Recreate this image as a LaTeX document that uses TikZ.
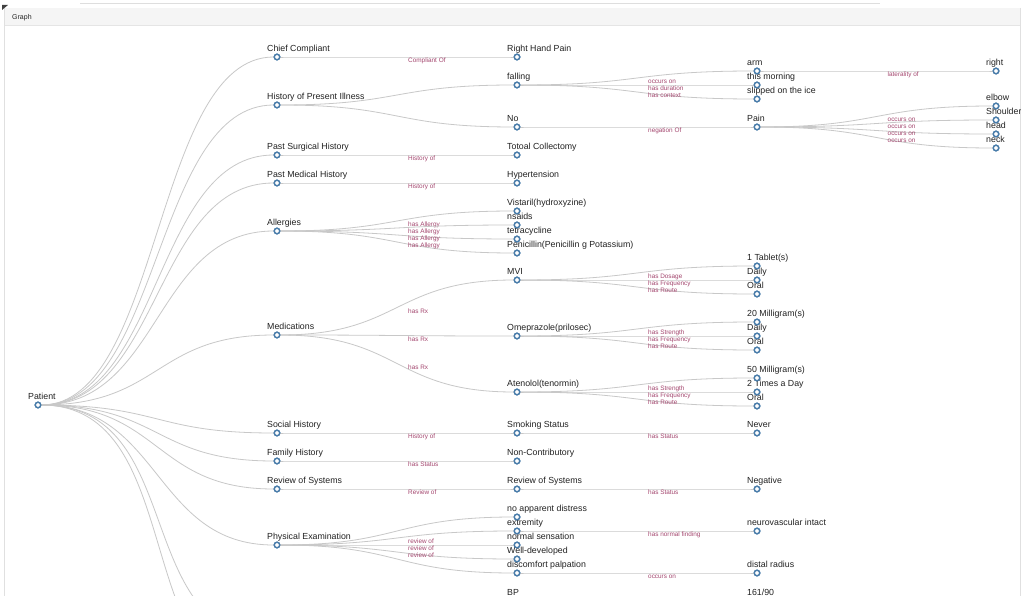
\documentclass[tikz,border=0pt]{standalone}
\usepackage{fontspec}
\setmainfont{Liberation Sans}
\usetikzlibrary{calc}
\definecolor{edgec}{HTML}{C8C8C8}
\definecolor{dotc}{HTML}{4A7DAA}
\definecolor{labc}{HTML}{A4476F}
\definecolor{txtc}{HTML}{222222}
\tikzset{
  dot/.style={circle,draw=dotc,line width=1.4pt,fill=white,minimum size=5.5pt,inner sep=0pt},
  txt/.style={text=txtc,font=\fontsize{8.8}{10}\selectfont,inner sep=0pt,anchor=base west},
  elab/.style={text=labc,font=\fontsize{6.4}{7}\selectfont,inner sep=0pt,anchor=west},
  link/.style={draw=edgec,line width=0.8pt,out=0,in=180,distance=120pt}
}
\newcommand\nd[4]{\node[dot] (#1) at (#2,#3) {}; \node[txt] (#1t) at (#2-10,#3-5.5) {#4};}
\newcommand\ed[2]{\draw[link] (#1) to (#2);}
\newcommand\edl[3]{\draw[link] (#1) to (#2); \node[elab] (#1#2l) at ($(#1)!.5!(#2)+(11,3.5)$) {#3};}
\begin{document}
\begin{tikzpicture}[x=1pt,y=-1pt]
\useasboundingbox (0,0) rectangle (1024,596);
\fill[white] (0,0) rectangle (1024,596);
% card
\draw[edgec!60,line width=0.6pt] (80,3) -- (880,3);
\fill[black!4] (4,8) rectangle (1020,25);
\draw[black!10,line width=0.5pt] (4,25) -- (1020,25);
\draw[black!12,line width=0.6pt] (4,8) -- (4,596) (1020,8) -- (1020,596);
\fill[black!75] (2,5) -- (8,5) -- (2,10) -- cycle;
\node[txt,font=\fontsize{7}{8}\selectfont] (hdr) at (12,19.5) {Graph};
\begin{scope}
\clip (4,26) rectangle (1020,596);
% level 0
\nd{P}{38}{405}{Patient}
% level 1
\nd{cc}{277}{57}{Chief Compliant}
\nd{hpi}{277}{105}{History of Present Illness}
\nd{psh}{277}{155}{Past Surgical History}
\nd{pmh}{277}{183}{Past Medical History}
\nd{al}{277}{231}{Allergies}
\nd{med}{277}{335}{Medications}
\nd{sh}{277}{433}{Social History}
\nd{fh}{277}{461}{Family History}
\nd{ros}{277}{489}{Review of Systems}
\nd{pe}{277}{545}{Physical Examination}
\coordinate (off1) at (277,640);
\coordinate (off2) at (277,690);
% level 2
\nd{rhp}{517}{57}{Right Hand Pain}
\nd{fal}{517}{85}{falling}
\nd{no}{517}{127}{No}
\nd{tc}{517}{155}{Totoal Collectomy}
\nd{ht}{517}{183}{Hypertension}
\nd{vis}{517}{211}{Vistaril(hydroxyzine)}
\nd{nsa}{517}{225}{nsaids}
\nd{tet}{517}{239}{tetracycline}
\nd{pen}{517}{253}{Penicillin(Penicillin g Potassium)}
\nd{mvi}{517}{280}{MVI}
\nd{ome}{517}{336}{Omeprazole(prilosec)}
\nd{ate}{517}{392}{Atenolol(tenormin)}
\nd{smk}{517}{433}{Smoking Status}
\nd{nc}{517}{461}{Non-Contributory}
\nd{ros2}{517}{489}{Review of Systems}
\nd{nad}{517}{517}{no apparent distress}
\nd{ext}{517}{531}{extremity}
\nd{ns}{517}{545}{normal sensation}
\nd{wd}{517}{559}{Well-developed}
\nd{dp}{517}{573}{discomfort palpation}
\nd{bp}{517}{601}{BP}
% level 3
\nd{arm}{757}{71}{arm}
\nd{tm}{757}{85}{this morning}
\nd{sli}{757}{99}{slipped on the ice}
\nd{pain}{757}{127}{Pain}
\nd{tab}{757}{266}{1 Tablet(s)}
\nd{d1}{757}{280}{Daily}
\nd{o1}{757}{294}{Oral}
\nd{m20}{757}{322}{20 Milligram(s)}
\nd{d2}{757}{336}{Daily}
\nd{o2}{757}{350}{Oral}
\nd{m50}{757}{378}{50 Milligram(s)}
\nd{t2}{757}{392}{2 Times a Day}
\nd{o3}{757}{406}{Oral}
\nd{nev}{757}{433}{Never}
\nd{neg}{757}{489}{Negative}
\nd{nvi}{757}{531}{neurovascular intact}
\nd{dr}{757}{573}{distal radius}
\nd{bpv}{757}{601}{161/90}
% level 4
\nd{rt}{996}{71}{right}
\nd{elb}{996}{106}{elbow}
\nd{sho}{996}{120}{Shoulder}
\nd{hd}{996}{134}{head}
\nd{nk}{996}{148}{neck}
\end{scope}
% edges, then dots redrawn on top
\begin{scope}
\clip (4,26) rectangle (1020,596);
\foreach \t in {cc,hpi,psh,pmh,al,med,sh,fh,ros,pe} {\ed{P}{\t}}
\draw[link,distance=150pt] (P) to (off1);
\draw[link,distance=150pt] (P) to (off2);
\edl{cc}{rhp}{Compliant Of}
\ed{hpi}{fal}
\ed{hpi}{no}
\edl{psh}{tc}{History of}
\edl{pmh}{ht}{History of}
\edl{al}{vis}{has Allergy}
\edl{al}{nsa}{has Allergy}
\edl{al}{tet}{has Allergy}
\edl{al}{pen}{has Allergy}
\edl{med}{mvi}{has Rx}
\edl{med}{ome}{has Rx}
\edl{med}{ate}{has Rx}
\edl{sh}{smk}{History of}
\edl{fh}{nc}{has Status}
\edl{ros}{ros2}{Review of}
\ed{pe}{nad}
\edl{pe}{ext}{review of}
\edl{pe}{ns}{review of}
\edl{pe}{wd}{review of}
\ed{pe}{dp}
\edl{fal}{arm}{occurs on}
\edl{fal}{tm}{has duration}
\edl{fal}{sli}{has context}
\edl{no}{pain}{negation Of}
\edl{mvi}{tab}{has Dosage}
\edl{mvi}{d1}{has Frequency}
\edl{mvi}{o1}{has Route}
\edl{ome}{m20}{has Strength}
\edl{ome}{d2}{has Frequency}
\edl{ome}{o2}{has Route}
\edl{ate}{m50}{has Strength}
\edl{ate}{t2}{has Frequency}
\edl{ate}{o3}{has Route}
\edl{smk}{nev}{has Status}
\edl{ros2}{neg}{has Status}
\edl{ext}{nvi}{has normal finding}
\edl{dp}{dr}{occurs on}
\edl{arm}{rt}{laterality of}
\edl{pain}{elb}{occurs on}
\edl{pain}{sho}{occurs on}
\edl{pain}{hd}{occurs on}
\edl{pain}{nk}{occurs on}
\foreach \n/\x/\y in {P/38/405,cc/277/57,hpi/277/105,psh/277/155,pmh/277/183,al/277/231,med/277/335,sh/277/433,fh/277/461,ros/277/489,pe/277/545,
 rhp/517/57,fal/517/85,no/517/127,tc/517/155,ht/517/183,vis/517/211,nsa/517/225,tet/517/239,pen/517/253,mvi/517/280,ome/517/336,ate/517/392,smk/517/433,nc/517/461,ros2/517/489,nad/517/517,ext/517/531,ns/517/545,wd/517/559,dp/517/573,
 arm/757/71,tm/757/85,sli/757/99,pain/757/127,tab/757/266,d1/757/280,o1/757/294,m20/757/322,d2/757/336,o2/757/350,m50/757/378,t2/757/392,o3/757/406,nev/757/433,neg/757/489,nvi/757/531,dr/757/573,
 rt/996/71,elb/996/106,sho/996/120,hd/996/134,nk/996/148}
 {\node[dot] (\n d) at (\x,\y) {};}
\end{scope}
\end{tikzpicture}
\end{document}
